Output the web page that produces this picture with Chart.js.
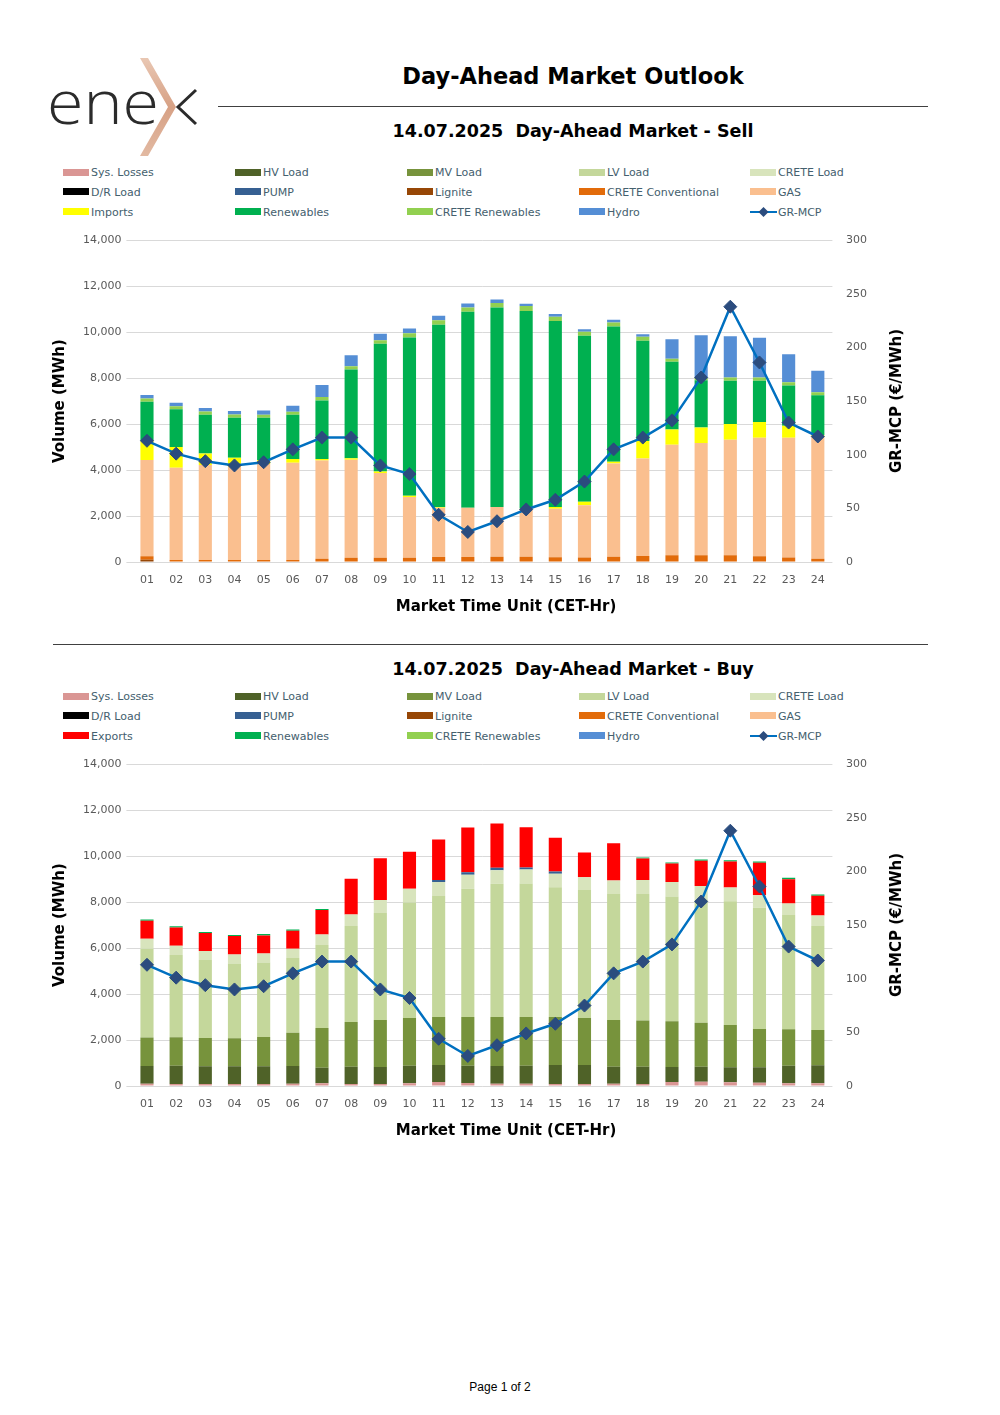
<!DOCTYPE html>
<html>
<head>
<meta charset="utf-8">
<script src="https://cdn.jsdelivr.net/npm/chart.js@4.4.1/dist/chart.umd.min.js"></script>
<style>
  html,body{margin:0;padding:0;background:#fff;}
  body{width:1000px;height:1415px;position:relative;overflow:hidden;font-family:"DejaVu Sans",sans-serif;}
  .abs{position:absolute;}
  .ctr{transform:translate(-50%,-50%);white-space:pre;}
  .mainTitle{font-weight:bold;font-size:22.5px;color:#000;}
  .subTitle{font-weight:bold;font-size:17.5px;color:#000;}
  .xTitle{font-weight:bold;font-size:15px;color:#000;}
  .hline{height:0;border-top:1.5px solid #404040;}
  .leg{font-size:11px;color:#44606E;white-space:nowrap;height:14px;line-height:14px;}
  .sw{display:inline-block;width:26px;height:7px;vertical-align:middle;margin-right:2px;position:relative;top:-1px;}
  .rtitle{font-weight:bold;font-size:15px;color:#000;transform:translate(-50%,-50%) rotate(-90deg);white-space:pre;}
  .footer{font-family:"Liberation Sans",Arial,sans-serif;font-size:12px;color:#000;}
</style>
</head>
<body>
<!-- Logo -->
<svg class="abs" style="left:40px;top:50px" width="170" height="115" viewBox="0 0 170 115">
  <defs>
    <linearGradient id="chev" x1="0" y1="0" x2="0" y2="1">
      <stop offset="0" stop-color="#E9C7B3"/>
      <stop offset="0.5" stop-color="#D7A185"/>
      <stop offset="1" stop-color="#E2B9A2"/>
    </linearGradient>
  </defs>
  <text x="7" y="74" font-family="Open Sans, DejaVu Sans, sans-serif" font-weight="300" font-size="60" fill="#2b2b2b" textLength="112" lengthAdjust="spacingAndGlyphs">ene</text>
  <polygon points="100,8 108,8 136,57 108,106 100,106 128,57" fill="url(#chev)"/>
  <polyline points="156,40 138,57 156,74" fill="none" stroke="#2b2b2b" stroke-width="3"/>
</svg>

<div class="abs ctr mainTitle" style="left:573px;top:76px">Day-Ahead Market Outlook</div>
<div class="abs hline" style="left:218px;top:106px;width:710px"></div>
<div class="abs ctr subTitle" style="left:573px;top:131px">14.07.2025  Day-Ahead Market - Sell</div>
<div id="legSell"></div>
<div class="abs" style="left:40px;top:220px;width:900px;height:406px"><canvas id="sellChart" width="900" height="406"></canvas></div>
<div class="abs rtitle" style="left:896px;top:401px">GR-MCP (€/MWh)</div>
<div class="abs ctr xTitle" style="left:506px;top:606px">Market Time Unit (CET-Hr)</div>

<div class="abs hline" style="left:53px;top:644px;width:875px"></div>
<div class="abs ctr subTitle" style="left:573px;top:669px">14.07.2025  Day-Ahead Market - Buy</div>
<div id="legBuy"></div>
<div class="abs" style="left:40px;top:744px;width:900px;height:406px"><canvas id="buyChart" width="900" height="406"></canvas></div>
<div class="abs rtitle" style="left:896px;top:925px">GR-MCP (€/MWh)</div>
<div class="abs ctr xTitle" style="left:506px;top:1130px">Market Time Unit (CET-Hr)</div>

<div class="abs ctr footer" style="left:500px;top:1387px">Page 1 of 2</div>

<script>
// ---------- DATA ----------
const hours = ['01','02','03','04','05','06','07','08','09','10','11','12','13','14','15','16','17','18','19','20','21','22','23','24'];

// Sell side (MWh)
const sellLignite    = [100,0,0,0,0,0,0,0,0,0,0,0,0,0,0,0,0,0,0,0,0,0,0,0];
const sellCreteConv  = [150,85,85,85,85,85,145,190,190,190,215,215,230,230,210,200,230,260,290,290,290,250,200,145];
const sellGas        = [4185,4015,4130,4060,4175,4235,4275,4260,3680,2636,2147,2147,2160,2100,2110,2265,4060,4247,4810,4884,5028,5156,5206,5304];
const sellImports    = [840,900,510,390,175,160,60,60,70,60,30,0,0,0,70,160,70,755,668,680,682,680,520,70];
const sellRenewables = [1695,1640,1680,1740,1840,1930,2550,3865,5550,6880,7930,8520,8680,8590,8090,7215,5885,4360,2940,2058,1884,1797,1754,1740];
const sellCreteRen   = [145,140,145,145,130,130,145,145,160,185,200,190,200,220,190,175,175,175,130,115,145,145,145,130];
const sellHydro      = [145,145,145,145,190,260,520,480,275,205,190,173,145,100,115,115,115,115,855,1840,1796,1723,1217,928];

// Buy side (MWh)
const buySysLosses   = [100,85,85,85,85,100,115,85,85,115,174,130,100,100,85,85,100,85,174,188,160,145,115,115];
const buyHV          = [768,798,770,770,770,770,682,756,741,769,739,754,770,784,828,828,741,756,652,653,652,667,769,784];
const buyMV          = [1247,1233,1232,1218,1275,1449,1725,1942,2044,2073,2087,2116,2130,2116,2087,2044,2029,2014,1986,1913,1840,1666,1580,1536];
const buyLV          = [3855,3580,3391,3260,3247,3246,3608,4174,4652,5028,5261,5580,5797,5812,5652,5565,5478,5493,5434,5333,5391,5275,4971,4522];
const buyCreteLoad   = [435,405,392,392,391,406,464,507,565,595,609,608,594,608,580,565,594,609,624,609,595,551,507,463];
const buyPump        = [0,0,0,0,0,0,0,0,0,0,87,116,102,87,101,0,0,0,0,0,0,0,0,0];
const buyExports     = [783,800,782,797,783,783,1058,1550,1826,1608,1768,1942,1927,1753,1464,1073,1623,942,811,1101,1130,1406,1058,855];
const buyRenewables  = [60,45,45,45,60,60,45,0,0,0,0,0,0,0,0,0,0,45,45,60,58,58,58,58];

// GR-MCP (EUR/MWh)
const mcpPrices = [113,101,94,90,93,105,116,116,90,82,44,28,38,49,58,75,105,116,132,172,238,186,130,117];

// Axis ticks
const volumeMax = 14000, volumeStep = 2000;
const priceMax = 300, priceStep = 50;

// Legend labels (row-major, 5 columns)
const sellLegend = ['Sys. Losses','HV Load','MV Load','LV Load','CRETE Load','D/R Load','PUMP','Lignite','CRETE Conventional','GAS','Imports','Renewables','CRETE Renewables','Hydro','GR-MCP'];
const buyLegend  = ['Sys. Losses','HV Load','MV Load','LV Load','CRETE Load','D/R Load','PUMP','Lignite','CRETE Conventional','GAS','Exports','Renewables','CRETE Renewables','Hydro','GR-MCP'];

// ---------- STYLE ----------
const colors = {
  'Sys. Losses':'#DA9694','HV Load':'#4F6228','MV Load':'#77933C','LV Load':'#C4D79B','CRETE Load':'#D8E4BC',
  'D/R Load':'#000000','PUMP':'#366092','Lignite':'#974706','CRETE Conventional':'#E26B0A','GAS':'#FABF8F',
  'Imports':'#FFFF00','Exports':'#FF0000','Renewables':'#00B050','CRETE Renewables':'#92D050','Hydro':'#558ED5'
};
const lineColor = '#0070C0', markerColor = '#2B4C7E';
const FONT = '"DejaVu Sans", sans-serif';

function buildLegend(id, labels, topY){
  const host = document.getElementById(id);
  const colX = [63,235,407,579,750];
  labels.forEach((lab,i)=>{
    const r = Math.floor(i/5), c = i%5;
    const d = document.createElement('div');
    d.className = 'abs leg';
    d.style.left = colX[c]+'px';
    d.style.top = (topY + r*19.8 - 6)+'px';
    if (lab === 'GR-MCP') {
      d.innerHTML = '<svg width="28" height="12" style="vertical-align:middle;position:relative;top:-1px"><line x1="0" y1="6" x2="27" y2="6" stroke="'+lineColor+'" stroke-width="2"/><polygon points="13.5,1 18.5,6 13.5,11 8.5,6" fill="'+markerColor+'"/></svg>' + lab;
    } else {
      d.innerHTML = '<span class="sw" style="background:'+colors[lab]+'"></span>' + lab;
    }
    host.appendChild(d);
  });
}
buildLegend('legSell', sellLegend, 172);
buildLegend('legBuy', buyLegend, 696);

function makeChart(canvasId, barSeries){
  const datasets = barSeries.map(s => ({
    type:'bar', label:s.label, data:s.data, backgroundColor:colors[s.label],
    borderWidth:0, yAxisID:'y', order:1, stack:'vol',
    categoryPercentage:0.45, barPercentage:1.0
  }));
  datasets.push({
    type:'line', label:'GR-MCP', data:mcpPrices, yAxisID:'y1', order:0,
    borderColor:lineColor, borderWidth:2.5, tension:0, fill:false,
    pointStyle:'rectRot', pointRadius:6.5, pointBackgroundColor:markerColor, pointBorderColor:markerColor, pointBorderWidth:1
  });
  return new Chart(document.getElementById(canvasId), {
    data:{labels:hours, datasets},
    options:{
      responsive:false, animation:false, devicePixelRatio:1,
      layout:{padding:{top:0,left:0,right:0,bottom:0}},
      plugins:{legend:{display:false}, tooltip:{enabled:false}},
      scales:{
        x:{
          stacked:true,
          grid:{display:false, drawTicks:false}, border:{display:false},
          ticks:{padding:12, color:'#595959', font:{family:FONT,size:11}, maxRotation:0, autoSkip:false},
          title:{display:false},
          afterFit:s=>{s.height=64;}
        },
        y:{
          stacked:true, position:'left', min:0, max:volumeMax,
          ticks:{stepSize:volumeStep, padding:5, color:'#595959', font:{family:FONT,size:11},
                 callback:v=>Number(v).toLocaleString('en-US')},
          grid:{color:'#D9D9D9', lineWidth:1, tickLength:6, drawTicks:true}, border:{display:false},
          title:{display:true, text:'Volume (MWh)', color:'#000', font:{family:FONT,size:15,weight:'bold'}, padding:{top:11,bottom:0}},
          afterFit:s=>{s.width=92.4;}
        },
        y1:{
          position:'right', min:0, max:priceMax,
          ticks:{stepSize:priceStep, padding:13.6, color:'#595959', font:{family:FONT,size:11}},
          grid:{display:false, drawTicks:false}, border:{display:false},
          afterFit:s=>{s.width=107.6;}
        }
      }
    }
  });
}

makeChart('sellChart', [
  {label:'Lignite', data:sellLignite},
  {label:'CRETE Conventional', data:sellCreteConv},
  {label:'GAS', data:sellGas},
  {label:'Imports', data:sellImports},
  {label:'Renewables', data:sellRenewables},
  {label:'CRETE Renewables', data:sellCreteRen},
  {label:'Hydro', data:sellHydro}
]);
makeChart('buyChart', [
  {label:'Sys. Losses', data:buySysLosses},
  {label:'HV Load', data:buyHV},
  {label:'MV Load', data:buyMV},
  {label:'LV Load', data:buyLV},
  {label:'CRETE Load', data:buyCreteLoad},
  {label:'PUMP', data:buyPump},
  {label:'Exports', data:buyExports},
  {label:'Renewables', data:buyRenewables}
]);
</script>
</body>
</html>
